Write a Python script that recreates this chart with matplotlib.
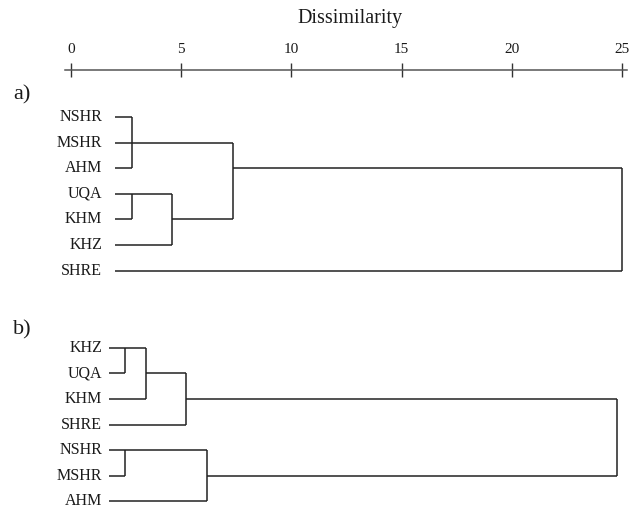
import matplotlib
matplotlib.use('Agg')
from matplotlib import pyplot as plt

plt.rcParams['font.family'] = ['Liberation Serif', 'DejaVu Serif']

# escala de dissimilaridade
ticks = [0, 5, 10, 15, 20, 25]

# a)
leaves_a = ['NSHR', 'MSHR', 'AHM', 'UQA', 'KHM', 'KHZ', 'SHRE']
start_a = 2.0
# (linhas unidas, dissimilaridade da junção, linha de saída)
merge_rows_a = [[0, 1, 2], [3, 4], [3, 5], [1, 4], [2, 6]]
merge_dist_a = [2.77, 2.77, 4.58, 7.35, 25.0]
merge_out_a = [1, 3, 4, 2, None]

# b)
leaves_b = ['KHZ', 'UQA', 'KHM', 'SHRE', 'NSHR', 'MSHR', 'AHM']
start_b = 1.72
merge_rows_b = [[0, 1], [0, 2], [1, 3], [4, 5], [4, 6], [2, 5]]
merge_dist_b = [2.45, 3.40, 5.22, 2.45, 6.17, 24.77]
merge_out_b = [0, 1, 2, 4, 5, None]


def desenha_dendro(ax, leaves, start, rows, dists, outs, offset):
    cor = '#222222'
    atual = {i: start for i in range(len(leaves))}
    for i, nome in enumerate(leaves):
        ax.text(1.42, i + offset, nome, ha='right', va='center', fontsize=11.5, color='#1a1a1a')
    for r, d, o in zip(rows, dists, outs):
        for k in r:
            ax.plot([atual[k], d], [k + offset, k + offset], color=cor, lw=1.1, solid_capstyle='butt')
        ax.plot([d, d], [min(r) + offset, max(r) + offset], color=cor, lw=1.1, solid_capstyle='butt')
        if o is not None:
            atual[o] = d


fig = plt.figure(figsize=(6.4, 5.15), dpi=100)
ax = fig.add_axes([65 / 640, 0.0, 562 / 640, 445 / 515])

desenha_dendro(ax, leaves_a, start_a, merge_rows_a, merge_dist_a, merge_out_a, 0)
desenha_dendro(ax, leaves_b, start_b, merge_rows_b, merge_dist_b, merge_out_b, 9)

ax.set_xlim(-0.27, 25.23)
ax.set_ylim(15.53, -1.83)

for s in ['left', 'right', 'bottom']:
    ax.spines[s].set_visible(False)
ax.spines['top'].set_color('#555555')
ax.spines['top'].set_linewidth(1.1)
ax.set_yticks([])
ax.xaxis.tick_top()
ax.set_xticks(ticks)
ax.tick_params(axis='x', direction='inout', length=10, width=1.0, color='#333333',
               pad=5, labelsize=11, labelcolor='#1a1a1a')

fig.text(350 / 640, 1 - 18 / 515, 'Dissimilarity', ha='center', va='center', fontsize=14.5, color='#1a1a1a')
fig.text(13 / 640, 1 - 95 / 515, 'a)', ha='left', va='center', fontsize=16, color='#1a1a1a')
fig.text(13 / 640, 1 - 330 / 515, 'b)', ha='left', va='center', fontsize=16, color='#1a1a1a')

fig.savefig('out.png', dpi=100)
